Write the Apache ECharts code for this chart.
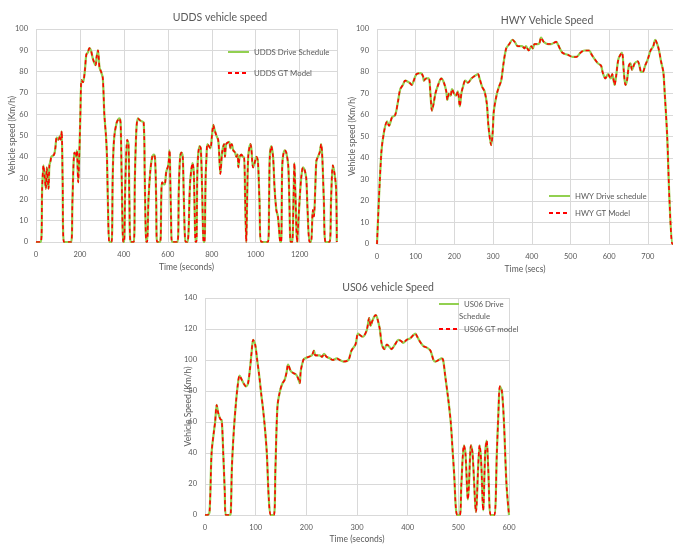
<!DOCTYPE html>
<html><head><meta charset="utf-8">
<script src="https://cdn.jsdelivr.net/npm/echarts@6/dist/echarts.min.js"></script>
<style>html,body{margin:0;padding:0;background:#fff}#c{width:673px;height:546px}</style>
</head><body><div id="c"></div>
<script>
// UDDS
var uddsTime = [0,22,28,34,40,45,49,53,57,61,66,70,82,88,94,102,110,113,117,121,127,160,166,175,182,186,192,198,202,207,214,222,229,236,243,250,259,271,276,282,289,296,304,311,319,323,328,334,344,349,355,367,379,385,390,397,401,406,415,421,425,431,445,450,457,464,475,490,495,502,506,512,520,529,536,542,547,551,565,570,574,584,588,593,602,608,611,615,619,644,650,656,662,668,673,681,690,700,703,712,718,722,726,730,735,744,750,756,763,767,772,776,780,787,794,801,807,812,821,829,833,839,847,856,860,866,879,885,891,898,906,912,918,921,927,935,942,947,952,957,961,966,976,980,988,995,1003,1010,1017,1026,1056,1061,1064,1071,1079,1086,1094,1101,1107,1112,1116,1120,1124,1132,1139,1148,1153,1159,1166,1172,1176,1180,1189,1192,1200,1207,1215,1222,1230,1236,1245,1252,1260,1265,1271,1276,1283,1291,1298,1303,1310,1318,1336,1343,1351,1359,1366,1369];
var uddsSpeed = [0,0,25,36,30,25,35,30,25,36,38,40,41,44,49,48,50,48,52,30,0,0,20,42,40,43,28,44,60,76,75,80,88,89,91,90,86,83,87,90,82,80,77,60,49,40,15,0,0,30,48,56,58,56,30,0,0,25,48,46,20,0,0,30,53,58,57,56,30,0,0,20,33,40,41,39,20,0,0,20,28,27,28,33,36,43,30,10,0,0,25,40,42,40,20,0,0,25,30,37,33,15,0,0,35,45,44,25,0,0,30,40,46,45,44,50,55,53,50,48,43,32,42,46,40,46,47,44,46,43,42,40,41,35,40,41,40,40,20,0,20,40,46,44,35,37,40,38,20,0,0,20,40,45,40,25,15,12,5,0,0,33,40,43,42,36,20,0,0,20,37,25,0,0,20,30,35,34,30,15,0,0,15,12,25,38,40,42,46,40,20,0,0,20,36,32,25,0];
// HWY
var hwyTime = [0,11,18,26,31,39,47,54,60,67,73,84,90,95,102,113,119,121,127,134,138,142,146,151,158,166,173,179,182,186,190,194,199,204,209,214,218,222,228,235,244,251,261,265,272,278,284,288,295,299,302,310,315,321,327,334,342,350,356,364,375,381,385,392,399,403,407,416,420,424,431,442,450,463,467,479,493,506,515,526,536,548,555,571,579,583,590,597,604,608,614,618,624,633,638,642,646,651,655,659,666,674,678,683,687,693,700,707,714,719,726,730,734,740,743,750,756,763,765];
var hwySpeed = [0,42,52,57,55,59,60,66,72,74,76,75,74,76,79,79.5,78,76,77,77,70,62,65,70,74,77,75,71,67,70,69,72,70,69,71,64,70,73,76,75,77,78,79,77,73,71,65,55,46,52,62,70,73,76,84,91,93,95,94,92,92,91,92,90,92,91,93,93,93.5,96,94,93,93,94,93,89,88,87,87,89,90,90,88,84,83,80,77,79,77,79,74,78,86,89,80,74,76,83,84,81,84,85,83,80,80,83,86,90,92,95,92,89,85,80,72,50,20,0,0];
// US06
var us06Time = [0,5,9,13,18,20,23,26,30,33,36,39,41,49,51,53,57,61,64,68,70,76,81,85,89,92,95,99,103,107,111,114,118,122,126,130,136,139,143,148,153,157,161,164,169,172,178,181,184,187,189,194,197,204,211,215,218,226,231,235,240,247,252,260,266,273,283,289,297,302,306,311,319,324,327,330,334,337,340,345,349,354,359,365,368,375,382,388,391,398,405,411,415,419,424,431,438,445,451,455,461,467,470,474,480,485,489,492,495,498,503,506,511,514,519,521,525,528,535,539,542,545,549,553,556,559,564,571,576,579,582,586,590,595,600];
var us06Speed = [0,0,2,40,55,60,71,66,62,61,40,15,0,0,2,30,55,72,82,90,89,85,83,85,95,105,113,110,100,90,78,70,57,40,10,0,0,30,70,80,85,87,92,97,93,92,91,90,88,85,93,100,101,102,103,106,103,103,102,104,102,101,100,101,100,99,100,106,110,117,116,115,119,127,122,125,128,129,127,120,110,107,110,108,107,110,113,112,111,113,114,116,117,115,112,109,108,106,100,99,100,101,100,90,75,60,40,25,5,0,0,20,45,40,10,20,45,40,2,30,45,35,3,40,48,30,0,0,40,65,83,80,60,20,0];

function pairs(t, v){ return t.map(function(x,i){ return [x, v[i]]; }); }

var GREEN = '#92d050', RED = '#ff0000', TXT = '#595959', GRID = '#d9d9d9';
var FONT = 'Lato';
function plain(v){ return String(v); }

function xAx(idx, max, interval, name, gap){
  return {type:'value', gridIndex:idx, min:0, max:max, interval:interval,
    name:name, nameLocation:'middle', nameGap:gap, nameMoveOverlap:false,
    nameTextStyle:{color:TXT, fontSize:8.5, fontFamily:FONT},
    axisLine:{show:true, lineStyle:{color:GRID}}, axisTick:{show:false},
    axisLabel:{color:TXT, fontSize:7.5, fontFamily:FONT, margin:9, formatter:plain, showMaxLabel: max % interval === 0},
    splitLine:{show:true, lineStyle:{color:GRID, width:1}}};
}
function yAx(idx, max, interval, name, gap){
  return {type:'value', gridIndex:idx, min:0, max:max, interval:interval,
    name:name, nameLocation:'middle', nameGap:gap, nameRotate:90, nameMoveOverlap:false,
    nameTextStyle:{color:TXT, fontSize:8.5, fontFamily:FONT},
    axisLine:{show:false}, axisTick:{show:false},
    axisLabel:{color:TXT, fontSize:7.5, fontFamily:FONT, margin:8, formatter:plain},
    splitLine:{show:true, lineStyle:{color:GRID, width:1}}};
}
function ser(name, idx, data, dashed){
  return {type:'line', name:name, xAxisIndex:idx, yAxisIndex:idx, data:data,
    symbol:'none', smooth:0.3, animation:false,
    lineStyle: dashed ? {color:RED, width:1.6, type:[4,3]} : {color:GREEN, width:2.2},
    itemStyle:{color: dashed ? RED : GREEN}};
}
var udds = pairs(uddsTime, uddsSpeed), hwy = pairs(hwyTime, hwySpeed), us06 = pairs(us06Time, us06Speed);

var legText = {color:TXT, fontSize:7.8, fontFamily:FONT};
var legBase = {padding:0, itemWidth:21, itemHeight:10, itemStyle:{opacity:0}, textStyle:legText};
function leg(extra){ return Object.assign({}, legBase, extra); }
var titleStyle = {color:TXT, fontSize:10.5, fontWeight:'normal', fontFamily:FONT};
var option = {
  backgroundColor:'#fff',
  animation:false,
  title:[
    {text:'UDDS vehicle speed', left:215, top:7, textAlign:'center', textStyle:titleStyle},
    {text:'HWY Vehicle Speed', left:542, top:10, textAlign:'center', textStyle:titleStyle},
    {text:'US06 vehicle Speed', left:383, top:277, textAlign:'center', textStyle:titleStyle},
    {text:'Schedule', left:459, top:312, padding:0, textStyle:{color:TXT, fontSize:7.8, fontWeight:'normal', fontFamily:FONT}}
  ],
  grid:[
    {left:36, top:29, width:301, height:213},
    {left:377, top:29, width:296, height:215},
    {left:205, top:298, width:304, height:217}
  ],
  xAxis:[ xAx(0,1370,200,'Time (seconds)',21), xAx(1,765,100,'Time (secs)',21), xAx(2,600,100,'Time (seconds)',20) ],
  yAxis:[ yAx(0,100,10,'Vehicle speed (Km/h)',19), yAx(1,100,10,'Vehicle speed (Km/h)',20), yAx(2,140,20,'Vehicle Speed (Km/h)',12) ],
  legend:[
    leg({data:['UDDS Drive Schedule','UDDS GT Model'], orient:'vertical', left:227, top:48, itemGap:13}),
    leg({data:['HWY Drive schedule','HWY GT Model'], orient:'vertical', left:548, top:192, itemGap:9}),
    leg({data:['US06 Drive Schedule'], left:438, top:300, itemWidth:20, formatter:function(){ return 'US06 Drive'; }}),
    leg({data:['US06 GT model'], left:438, top:325, itemWidth:20})
  ],
  series:[
    ser('UDDS Drive Schedule',0,udds,false), ser('UDDS GT Model',0,udds,true),
    ser('HWY Drive schedule',1,hwy,false), ser('HWY GT Model',1,hwy,true),
    ser('US06 Drive Schedule',2,us06,false), ser('US06 GT model',2,us06,true)
  ]
};
var chart = echarts.init(document.getElementById('c'), null, {renderer:'canvas'});
chart.setOption(option);
</script></body></html>
